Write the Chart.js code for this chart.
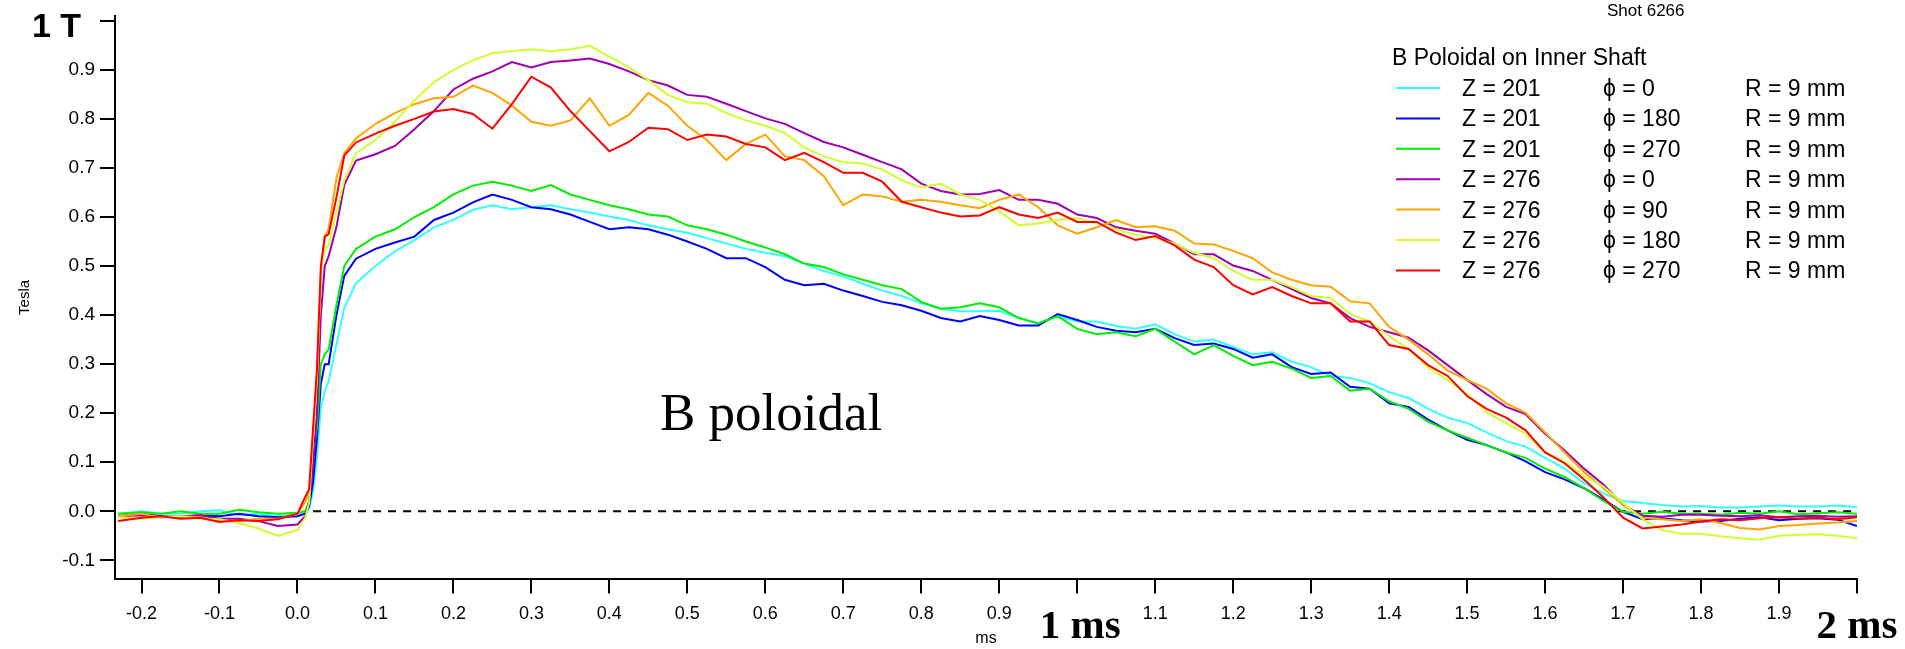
<!DOCTYPE html>
<html>
<head>
<meta charset="utf-8">
<title>B poloidal - Shot 6266</title>
<script src="https://cdn.jsdelivr.net/npm/chart.js@4.4.1/dist/chart.umd.min.js"></script>
<style>
  html, body { margin: 0; padding: 0; background: #fff; }
  #wrap { position: relative; width: 1905px; height: 649px; }
</style>
</head>
<body>
<div id="wrap"><canvas id="canvasBPoloidal"></canvas></div>
<script>
// Tiempo (ms) comun a todas las sondas
const timeMs = [
  -0.23, -0.2, -0.175, -0.15, -0.125, -0.1, -0.075, -0.05, -0.025, 0,
  0.01, 0.015, 0.02, 0.025, 0.03, 0.035, 0.04, 0.05, 0.06,
  0.075, 0.1, 0.125, 0.15, 0.175, 0.2, 0.225, 0.25, 0.275, 0.3,
  0.325, 0.35, 0.375, 0.4, 0.425, 0.45, 0.475, 0.5, 0.525, 0.55, 0.575, 0.6, 0.625, 0.65, 0.675, 0.7, 0.725, 0.75, 0.775, 0.8,
  0.825, 0.85, 0.875, 0.9, 0.925, 0.95, 0.975, 1.0, 1.025, 1.05, 1.075, 1.1, 1.125, 1.15, 1.175, 1.2, 1.225, 1.25, 1.275, 1.3,
  1.325, 1.35, 1.375, 1.4, 1.425, 1.45, 1.475, 1.5, 1.525, 1.55, 1.575, 1.6, 1.625, 1.65, 1.675, 1.7, 1.725, 1.75, 1.775, 1.8, 1.825,
  1.85, 1.875, 1.9, 1.925, 1.95, 1.975, 2.0
];

// B poloidal (Tesla) por sonda
const z201phi0 = [
  -0.005, 0.0, -0.005, -0.005, 0.0, 0.002, -0.008, -0.005, -0.01, -0.005,
  -0.003, 0.005, 0.04, 0.11, 0.21, 0.245, 0.265, 0.34, 0.415,
  0.465, 0.5, 0.53, 0.553, 0.579, 0.594, 0.615, 0.624, 0.616, 0.62,
  0.624, 0.616, 0.609, 0.601, 0.594, 0.583, 0.575, 0.568, 0.557, 0.546, 0.535, 0.527, 0.52, 0.505, 0.49, 0.479, 0.464, 0.45, 0.439, 0.424,
  0.413, 0.408, 0.408, 0.409, 0.394, 0.383, 0.398, 0.387, 0.387, 0.378, 0.372, 0.381, 0.361, 0.346, 0.35, 0.335, 0.32, 0.324, 0.305, 0.294,
  0.276, 0.272, 0.261, 0.243, 0.231, 0.209, 0.191, 0.18, 0.161, 0.143, 0.132, 0.109, 0.087, 0.058, 0.036, 0.021, 0.017, 0.013, 0.01, 0.011, 0.008,
  0.008, 0.01, 0.012, 0.01, 0.01, 0.012, 0.008
];
const z201phi180 = [
  -0.01, -0.005, -0.01, -0.012, -0.008, -0.01, -0.005, -0.01, -0.012, -0.01,
  -0.005, 0.01, 0.06, 0.15, 0.26, 0.3, 0.3, 0.4, 0.48,
  0.515, 0.535, 0.548, 0.56, 0.594, 0.609, 0.63, 0.646, 0.635, 0.62,
  0.616, 0.605, 0.59, 0.575, 0.579, 0.575, 0.564, 0.55, 0.535, 0.516, 0.516, 0.498, 0.472, 0.461, 0.464, 0.45, 0.439, 0.427, 0.42, 0.409,
  0.394, 0.387, 0.398, 0.39, 0.379, 0.379, 0.402, 0.39, 0.376, 0.368, 0.365, 0.372, 0.353, 0.339, 0.342, 0.331, 0.313, 0.32, 0.294, 0.28,
  0.283, 0.254, 0.25, 0.22, 0.213, 0.187, 0.165, 0.146, 0.135, 0.12, 0.102, 0.08, 0.065, 0.047, 0.024, -0.001, -0.016, -0.014, -0.018, -0.021, -0.02,
  -0.015, -0.012, -0.018, -0.015, -0.014, -0.017, -0.03
];
const z201phi270 = [
  -0.005, -0.002, -0.005, 0.0, -0.005, -0.005, 0.003, -0.002, -0.005, -0.003,
  0.0, 0.02, 0.12, 0.17, 0.3, 0.32, 0.33, 0.42, 0.5,
  0.535, 0.56, 0.575, 0.6, 0.62, 0.646, 0.664, 0.672, 0.664, 0.653,
  0.665, 0.646, 0.635, 0.624, 0.616, 0.605, 0.601, 0.583, 0.575, 0.564, 0.55, 0.538, 0.524, 0.505, 0.498, 0.483, 0.472, 0.461, 0.453, 0.427,
  0.413, 0.416, 0.424, 0.416, 0.394, 0.383, 0.398, 0.372, 0.361, 0.365, 0.357, 0.372, 0.346, 0.32, 0.339, 0.317, 0.298, 0.305, 0.291, 0.272,
  0.276, 0.246, 0.25, 0.224, 0.209, 0.183, 0.165, 0.15, 0.135, 0.12, 0.109, 0.087, 0.07, 0.047, 0.021, -0.001, -0.005, -0.001, -0.005, -0.005, -0.007,
  -0.003, -0.005, 0.0, -0.006, -0.004, -0.002, -0.005
];
const z276phi0 = [
  -0.01, -0.008, -0.012, -0.01, -0.008, -0.015, -0.015, -0.02, -0.03, -0.027,
  -0.01, 0.02, 0.09, 0.2, 0.4, 0.5, 0.52, 0.58, 0.665,
  0.715, 0.728, 0.745, 0.779, 0.816, 0.86, 0.882, 0.897, 0.916, 0.905,
  0.916, 0.919, 0.923, 0.912, 0.897, 0.879, 0.868, 0.849, 0.845, 0.831, 0.816, 0.801, 0.79, 0.771, 0.753, 0.742, 0.727, 0.712, 0.697, 0.668,
  0.653, 0.646, 0.647, 0.655, 0.635, 0.635, 0.627, 0.605, 0.598, 0.579, 0.572, 0.566, 0.546, 0.524, 0.524, 0.501, 0.49, 0.472, 0.453, 0.435,
  0.424, 0.394, 0.376, 0.365, 0.354, 0.328, 0.298, 0.268, 0.239, 0.213, 0.198, 0.158, 0.124, 0.087, 0.054, 0.013, -0.009, -0.011, -0.007, -0.007, -0.009,
  -0.01, -0.008, -0.012, -0.01, -0.009, -0.011, -0.01
];
const z276phi90 = [
  -0.01, -0.005, -0.012, -0.01, -0.012, -0.02, -0.02, -0.015, -0.015, -0.005,
  0.02, 0.04, 0.15, 0.28, 0.48, 0.56, 0.575, 0.68, 0.73,
  0.76, 0.79, 0.812, 0.83, 0.842, 0.845, 0.868, 0.853, 0.827, 0.794,
  0.786, 0.797, 0.842, 0.786, 0.808, 0.853, 0.827, 0.786, 0.757, 0.716, 0.749, 0.768, 0.724, 0.716, 0.683, 0.624, 0.646, 0.642, 0.631, 0.635,
  0.631, 0.624, 0.618, 0.635, 0.646, 0.62, 0.583, 0.566, 0.579, 0.594, 0.579, 0.581, 0.572, 0.546, 0.544, 0.531, 0.516, 0.487, 0.472, 0.461,
  0.458, 0.428, 0.424, 0.376, 0.35, 0.32, 0.287, 0.268, 0.25, 0.22, 0.201, 0.161, 0.12, 0.08, 0.047, 0.013, -0.013, -0.016, -0.02, -0.016, -0.024,
  -0.034, -0.037, -0.03, -0.028, -0.025, -0.023, -0.02
];
const z276phi180 = [
  -0.012, -0.015, -0.012, -0.01, -0.015, -0.016, -0.024, -0.035, -0.05, -0.038,
  -0.013, 0.017, 0.158, 0.27, 0.49, 0.535, 0.542, 0.609, 0.675,
  0.73, 0.757, 0.794, 0.838, 0.875, 0.9, 0.92, 0.934, 0.938, 0.942,
  0.938, 0.942, 0.949, 0.927, 0.905, 0.879, 0.849, 0.834, 0.831, 0.812, 0.797, 0.786, 0.771, 0.742, 0.723, 0.712, 0.709, 0.697, 0.675, 0.66,
  0.668, 0.646, 0.635, 0.612, 0.583, 0.587, 0.594, 0.598, 0.587, 0.575, 0.564, 0.557, 0.546, 0.527, 0.516, 0.49, 0.472, 0.472, 0.457, 0.439,
  0.435, 0.402, 0.387, 0.357, 0.331, 0.294, 0.268, 0.239, 0.202, 0.18, 0.158, 0.12, 0.102, 0.072, 0.05, 0.017, -0.016, -0.038, -0.046, -0.046, -0.051,
  -0.055, -0.058, -0.05, -0.048, -0.047, -0.05, -0.055
];
const z276phi270 = [
  -0.02, -0.013, -0.01, -0.015, -0.013, -0.022, -0.018, -0.02, -0.016, -0.005,
  0.03, 0.045, 0.17, 0.29, 0.5, 0.56, 0.565, 0.64, 0.725,
  0.752, 0.77, 0.786, 0.8, 0.815, 0.82, 0.81, 0.78, 0.83, 0.886,
  0.864, 0.816, 0.775, 0.734, 0.753, 0.782, 0.779, 0.757, 0.768, 0.764, 0.749, 0.742, 0.716, 0.731, 0.712, 0.69, 0.69, 0.672, 0.631, 0.62,
  0.609, 0.601, 0.603, 0.62, 0.605, 0.598, 0.609, 0.59, 0.59, 0.568, 0.553, 0.561, 0.542, 0.513, 0.498, 0.461, 0.442, 0.457, 0.439, 0.424,
  0.424, 0.387, 0.387, 0.339, 0.331, 0.298, 0.276, 0.235, 0.209, 0.191, 0.165, 0.12, 0.098, 0.065, 0.028, -0.013, -0.035, -0.031, -0.027, -0.021, -0.016,
  -0.018, -0.014, -0.012, -0.015, -0.013, -0.016, -0.012
];

// Leyenda
const legendZ = ['Z = 201', 'Z = 201', 'Z = 201', 'Z = 276', 'Z = 276', 'Z = 276', 'Z = 276'];
const legendPhi = ['\u03D5 = 0', '\u03D5 = 180', '\u03D5 = 270', '\u03D5 = 0', '\u03D5 = 90', '\u03D5 = 180', '\u03D5 = 270'];
const legendR = ['R = 9 mm', 'R = 9 mm', 'R = 9 mm', 'R = 9 mm', 'R = 9 mm', 'R = 9 mm', 'R = 9 mm'];
const seriesColors = ['#33ffff', '#0000ff', '#00ee00', '#a000b0', '#ffa500', '#d0ff30', '#ff0000'];
const seriesValues = [z201phi0, z201phi180, z201phi270, z276phi0, z276phi90, z276phi180, z276phi270];

// Ejes
const xTickValues = [-0.2, -0.1, 0, 0.1, 0.2, 0.3, 0.4, 0.5, 0.6, 0.7, 0.8, 0.9, 1.0, 1.1, 1.2, 1.3, 1.4, 1.5, 1.6, 1.7, 1.8, 1.9, 2.0];
const xTickLabels = ['-0.2', '-0.1', '0.0', '0.1', '0.2', '0.3', '0.4', '0.5', '0.6', '0.7', '0.8', '0.9', '', '1.1', '1.2', '1.3', '1.4', '1.5', '1.6', '1.7', '1.8', '1.9', ''];
const yTickValues = [-0.1, 0, 0.1, 0.2, 0.3, 0.4, 0.5, 0.6, 0.7, 0.8, 0.9, 1.0];
const yTickLabels = ['-0.1', '0.0', '0.1', '0.2', '0.3', '0.4', '0.5', '0.6', '0.7', '0.8', '0.9', ''];
const zeroLineRange = [0.02, 2.0];

const SANS = '"Liberation Sans", Arial, sans-serif';
const SERIF = '"Liberation Serif", "Times New Roman", serif';

Chart.defaults.color = '#000';
Chart.defaults.font.family = SANS;

// Textos sueltos: leyenda, "1 T", "1 ms", "2 ms", "B poloidal"
const anotaciones = {
  id: 'anotaciones',
  afterDraw(chart) {
    const ctx = chart.ctx;
    const xs = chart.scales.x;
    ctx.save();
    ctx.fillStyle = '#000';
    ctx.textBaseline = 'alphabetic';
    ctx.textAlign = 'left';

    ctx.font = '17px ' + SANS;
    ctx.fillText('Shot 6266', 1607, 16);

    ctx.font = '23px ' + SANS;
    ctx.fillText('B Poloidal on Inner Shaft', 1392, 65);

    legendZ.forEach((z, i) => {
      const yc = 88 + 30.4 * i;
      const ds = chart.data.datasets[i];
      ctx.strokeStyle = ds.borderColor;
      ctx.lineWidth = 2;
      ctx.beginPath();
      ctx.moveTo(1396, yc);
      ctx.lineTo(1440, yc);
      ctx.stroke();
      ctx.fillText(z, 1462, yc + 8);
      ctx.fillText(legendPhi[i], 1603, yc + 8);
      ctx.fillText(legendR[i], 1745, yc + 8);
    });

    ctx.font = 'bold 34px ' + SANS;
    ctx.fillText('1 T', 32, 37);

    ctx.font = '53px ' + SERIF;
    ctx.fillText('B poloidal', 660, 430);

    ctx.font = 'bold 41px ' + SERIF;
    ctx.textAlign = 'center';
    ctx.fillText('1 ms', xs.getPixelForValue(1.0) + 3, 638);
    ctx.fillText('2 ms', xs.getPixelForValue(2.0), 638);
    ctx.restore();
  }
};

const datasets = seriesValues.map((serie, i) => ({
  label: legendZ[i] + ' ' + legendPhi[i],
  data: timeMs.map((t, k) => ({ x: t, y: serie[k] })),
  borderColor: seriesColors[i],
  borderWidth: 2,
  pointRadius: 0,
  tension: 0,
  order: 7 - i
}));

datasets.push({
  label: 'cero',
  data: zeroLineRange.map(t => ({ x: t, y: 0 })),
  borderColor: '#000',
  borderWidth: 2,
  borderDash: [8, 7],
  pointRadius: 0,
  order: 20
});

const ctxB = document.getElementById('canvasBPoloidal').getContext('2d');
new Chart(ctxB, {
  type: 'line',
  data: { datasets: datasets },
  options: {
    responsive: true,
    maintainAspectRatio: false,
    animation: false,
    events: [],
    layout: { padding: { top: 10, right: 48, bottom: 0, left: 0 } },
    plugins: { legend: { display: false }, tooltip: { enabled: false } },
    scales: {
      x: {
        type: 'linear',
        min: -0.234,
        max: 2.0,
        afterBuildTicks: s => { s.ticks = xTickValues.map(v => ({ value: v })); },
        afterFit: s => { s.height = 70.5; },
        ticks: {
          autoSkip: false, maxRotation: 0, padding: 10,
          font: { size: 18 },
          callback: (v, i) => xTickLabels[i]
        },
        grid: { drawOnChartArea: false, tickLength: 15, color: '#000', lineWidth: 2 },
        border: { color: '#000', width: 2 },
        title: { display: true, text: 'ms', font: { size: 16 }, padding: { top: 0, bottom: 1 } }
      },
      y: {
        type: 'linear',
        min: -0.137,
        max: 1.009,
        afterBuildTicks: s => { s.ticks = yTickValues.map(v => ({ value: v })); },
        afterFit: s => { s.width = 115; },
        ticks: {
          autoSkip: false, padding: 5,
          font: { size: 19 },
          callback: (v, i) => yTickLabels[i]
        },
        grid: { drawOnChartArea: false, tickLength: 15, color: '#000', lineWidth: 2 },
        border: { color: '#000', width: 2 },
        title: { display: true, text: 'Tesla', font: { size: 15 }, padding: { top: 16, bottom: 0 } }
      }
    }
  },
  plugins: [anotaciones]
});
</script>
</body>
</html>
